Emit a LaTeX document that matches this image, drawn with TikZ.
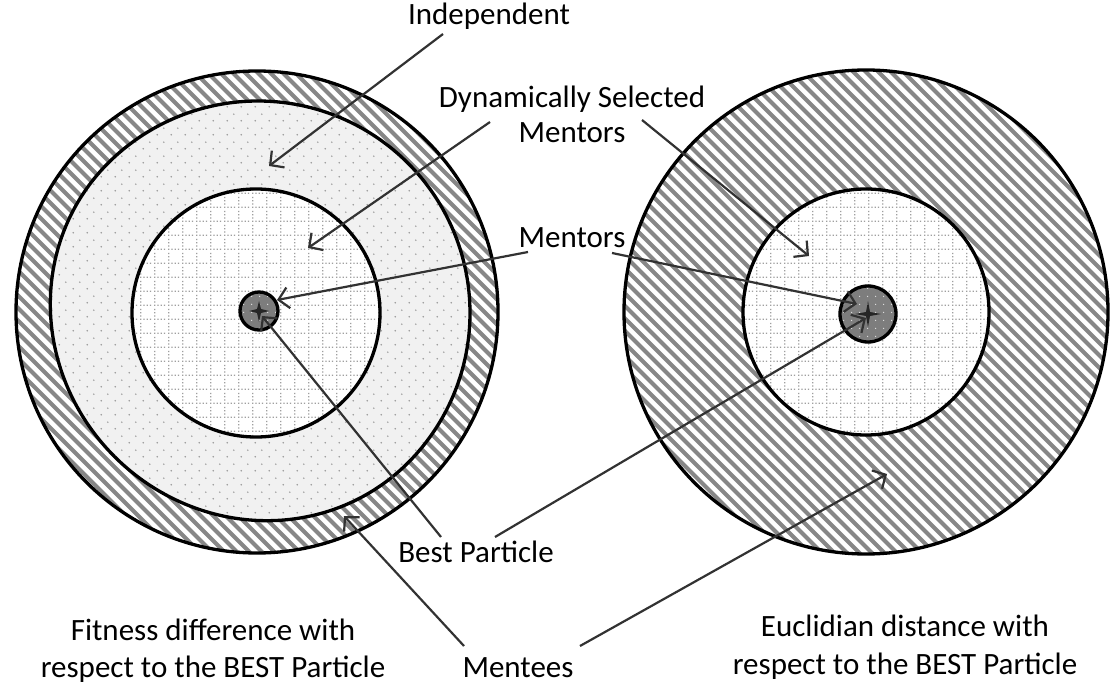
\documentclass[tikz,border=0pt]{standalone}
\usepackage{fontspec}
\setmainfont{Carlito}
\usetikzlibrary{arrows.meta,patterns}
\pgfdeclarepatternformonly{mydots}{\pgfqpoint{0pt}{0pt}}{\pgfqpoint{14pt}{14pt}}{\pgfqpoint{14pt}{14pt}}{%
  \pgfpathcircle{\pgfqpoint{3.5pt}{3.5pt}}{0.9pt}%
  \pgfpathcircle{\pgfqpoint{10.5pt}{10.5pt}}{0.9pt}%
  \pgfusepath{fill}}
\pgfdeclarepatternformonly{mygrid}{\pgfqpoint{0pt}{0pt}}{\pgfqpoint{14pt}{14pt}}{\pgfqpoint{14pt}{14pt}}{%
  \pgfpathrectangle{\pgfqpoint{0pt}{0pt}}{\pgfqpoint{1.4pt}{1.4pt}}%
  \pgfpathrectangle{\pgfqpoint{3.5pt}{0pt}}{\pgfqpoint{1.4pt}{1.4pt}}%
  \pgfpathrectangle{\pgfqpoint{7pt}{0pt}}{\pgfqpoint{1.4pt}{1.4pt}}%
  \pgfpathrectangle{\pgfqpoint{10.5pt}{0pt}}{\pgfqpoint{1.4pt}{1.4pt}}%
  \pgfpathrectangle{\pgfqpoint{0pt}{3.5pt}}{\pgfqpoint{1.4pt}{1.4pt}}%
  \pgfpathrectangle{\pgfqpoint{0pt}{7pt}}{\pgfqpoint{1.4pt}{1.4pt}}%
  \pgfpathrectangle{\pgfqpoint{0pt}{10.5pt}}{\pgfqpoint{1.4pt}{1.4pt}}%
  \pgfusepath{fill}}
\pgfdeclarepatternformonly{wdots}{\pgfqpoint{0pt}{0pt}}{\pgfqpoint{8pt}{8pt}}{\pgfqpoint{8pt}{8pt}}{%
  \pgfpathcircle{\pgfqpoint{4pt}{4pt}}{0.8pt}%
  \pgfusepath{fill}}
\definecolor{hatchgray}{RGB}{135,135,135}
\definecolor{ringfill}{RGB}{241,241,241}
\definecolor{coregray}{RGB}{125,125,125}
\definecolor{arrowgray}{RGB}{50,50,50}
\tikzset{
  rim/.style={draw=black,line width=3.3pt},
  hatchline/.style={draw=hatchgray,line width=4.2pt},
  dotzone/.style={fill=ringfill,postaction={pattern=mydots,pattern color=gray!80}},
  gridzone/.style={fill=white,postaction={pattern=mygrid,pattern color=gray!75}},
  corezone/.style={fill=coregray,postaction={pattern=wdots,pattern color=white!80!gray}},
  pointer/.style={draw=arrowgray,line width=2.2pt,-{Straight Barb[length=10pt,width=21pt]}},
  lbl/.style={inner sep=0pt,anchor=base,font=\fontsize{31}{37}\selectfont},
  starshape/.style={fill=black!85,draw=none}
}
\begin{document}
\begin{tikzpicture}[x=1pt,y=-1pt]
\useasboundingbox (0,0) rectangle (1110,684);
% ---------- left diagram ----------
\begin{scope}
  \clip (257,312) circle (241);
  \foreach \k in {-560,-547.5,...,560}
    \draw[hatchline] ({257+\k-260},{312-260}) -- ++(520,520);
\end{scope}
\path[dotzone] plot[smooth cycle,domain=0:357,samples=120]
  ({258+(212-9*max(0,cos(\x-135))^2)*cos(\x)},{313+(212-9*max(0,cos(\x-135))^2)*sin(\x)});
\path[gridzone] (256,313) circle (124);
\path[corezone] (259,311) circle (19);
\path[starshape] (259,301) -- (261,309) -- (269,311) -- (261,313) -- (259,322) -- (257,313) -- (249,311) -- (257,309) -- cycle;
\draw[rim] (257,312) circle (241);
\draw[rim] plot[smooth cycle,domain=0:357,samples=120]
  ({258+(212-9*max(0,cos(\x-135))^2)*cos(\x)},{313+(212-9*max(0,cos(\x-135))^2)*sin(\x)});
\draw[rim] (256,313) circle (124);
\draw[rim] (259,311) circle (19);
% ---------- right diagram ----------
\begin{scope}
  \clip (866,312) circle (242);
  \foreach \k in {-560,-547.5,...,560}
    \draw[hatchline] ({866+\k-260},{312-260}) -- ++(520,520);
\end{scope}
\path[gridzone] (866,312) circle (123);
\path[corezone] (868,314) circle (28);
\path[starshape] (868,301) -- (870,312) -- (881,314) -- (870,316) -- (868,327) -- (866,316) -- (855,314) -- (866,312) -- cycle;
\draw[rim] (866,312) circle (242);
\draw[rim] (866,312) circle (123);
\draw[rim] (868,314) circle (28);
% ---------- labels ----------
\node[lbl] (indep) at (489,25) {Independent};
\node[lbl] (dsmA) at (572,108) {Dynamically Selected};
\node[lbl] (dsmB) at (572,143) {Mentors};
\node[lbl] (ment) at (572,248) {Mentors};
\node[lbl] (best) at (476,562) {Best Particle};
\node[lbl] (mentees) at (518,677) {Mentees};
\node[lbl] (fitA) at (213,640) {Fitness difference with};
\node[lbl] (fitB) at (213,677) {respect to the BEST Particle};
\node[lbl] (eucA) at (905,636) {Euclidian distance with};
\node[lbl] (eucB) at (905,674) {respect to the BEST Particle};
% ---------- arrow ends ----------
\coordinate (indepS) at (443,34);   \coordinate (indepT) at (269,166);
\coordinate (dsmLS) at (490,122);   \coordinate (dsmLT) at (308,248);
\coordinate (dsmRS) at (642,120);   \coordinate (dsmRT) at (809,256);
\coordinate (mentLS) at (528,252);  \coordinate (mentLT) at (277,300);
\coordinate (mentRS) at (612,253);  \coordinate (mentRT) at (857,304);
\coordinate (bestLS) at (441,537);  \coordinate (bestLT) at (262,316);
\coordinate (bestRS) at (495,537);  \coordinate (bestRT) at (866,318);
\coordinate (menteeLS) at (464,646); \coordinate (menteeLT) at (344,516);
\coordinate (menteeRS) at (580,646); \coordinate (menteeRT) at (887,474);
\draw[pointer] (indepS) -- (indepT);
\draw[pointer] (dsmLS) -- (dsmLT);
\draw[pointer] (dsmRS) -- (dsmRT);
\draw[pointer] (mentLS) -- (mentLT);
\draw[pointer] (mentRS) -- (mentRT);
\draw[pointer] (bestLS) -- (bestLT);
\draw[pointer] (bestRS) -- (bestRT);
\draw[pointer] (menteeLS) -- (menteeLT);
\draw[pointer] (menteeRS) -- (menteeRT);
\end{tikzpicture}
\end{document}
